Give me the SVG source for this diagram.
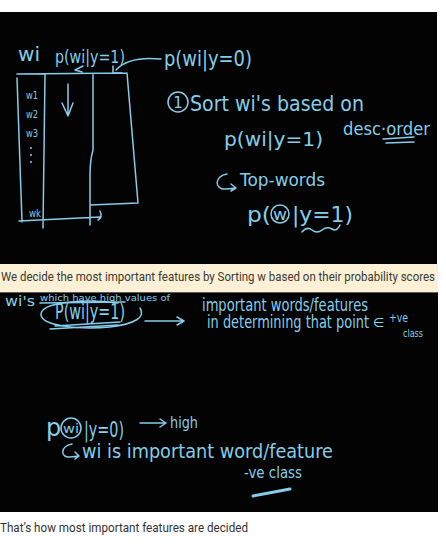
<svg xmlns="http://www.w3.org/2000/svg" width="446" height="546" viewBox="0 0 446 546">
<style>
.hw{font-family:"DejaVu Sans","Liberation Sans",sans-serif;fill:#86cdea}
.ln{fill:none;stroke:#86cdea;stroke-width:1.5;stroke-linecap:round;stroke-linejoin:round}
.cap{font-family:Roboto,"Liberation Sans",sans-serif;font-size:13px}
</style>
<rect width="446" height="546" fill="#ffffff"/>
<g id="panel1">
<rect x="0" y="12" width="437" height="252" fill="#030303"/>
<g id="table">
<path class="ln" d="M17,74 L127,73 M17,78 L22,222 M45,74 L43,228 M93,74 L93,150 Q90,160 90,175 L90,225 M127,73 L138,203 L90,205 M19,221 L100,217 M100,211 Q103,217 98,220"/>
<path class="ln" d="M68,84 L68,116 M62,103 L68,116 L73,103"/>
<path class="ln" d="M83,66 L75,70 L82,72"/>
<text class="hw" x="18" y="61" font-size="20" textLength="22" lengthAdjust="spacingAndGlyphs">wi</text>
<text class="hw" x="55" y="63" font-size="18" textLength="70" lengthAdjust="spacingAndGlyphs">p(wi|y=1)</text>
<text class="hw" x="26" y="99" font-size="10" textLength="12" lengthAdjust="spacingAndGlyphs">w1</text>
<text class="hw" x="26" y="118" font-size="10" textLength="12" lengthAdjust="spacingAndGlyphs">w2</text>
<text class="hw" x="26" y="137" font-size="10" textLength="12" lengthAdjust="spacingAndGlyphs">w3</text>
<circle cx="31" cy="148" r="1" fill="#86cdea"/>
<circle cx="31" cy="155" r="1" fill="#86cdea"/>
<circle cx="31" cy="162" r="1" fill="#86cdea"/>
<text class="hw" x="29" y="217" font-size="10" textLength="12" lengthAdjust="spacingAndGlyphs">wk</text>
</g>
<g id="label-p0">
<path class="ln" d="M161,59 C140,57 125,60 116,70 M113,66 L113,73 L122,73"/>
<text class="hw" x="164" y="66" font-size="22" textLength="88" lengthAdjust="spacingAndGlyphs">p(wi|y=0)</text>
</g>
<g id="step1">
<circle class="ln" cx="178" cy="102" r="10"/>
<text class="hw" x="178" y="108" font-size="15" text-anchor="middle">1</text>
<text class="hw" x="190" y="111" font-size="22" textLength="174" lengthAdjust="spacingAndGlyphs">Sort wi's based on</text>
<text class="hw" x="224" y="146" font-size="20" textLength="99" lengthAdjust="spacingAndGlyphs">p(wi|y=1)</text>
<text class="hw" x="343" y="135" font-size="17" textLength="87" lengthAdjust="spacingAndGlyphs">desc·order</text>
<path class="ln" d="M383,139 L414,137 M386,143 L414,142"/>
<path class="ln" d="M227,174 C214,176 214,190 226,189 L236,188 M231,184 L236,188 L231,191"/>
<text class="hw" x="240" y="186" font-size="18" textLength="85" lengthAdjust="spacingAndGlyphs">Top-words</text>
<text class="hw" x="247" y="222" font-size="22" textLength="24" lengthAdjust="spacingAndGlyphs">p(</text>
<circle class="ln" cx="280" cy="214" r="9"/>
<text class="hw" x="273" y="220" font-size="15" textLength="14" lengthAdjust="spacingAndGlyphs">w</text>
<text class="hw" x="292" y="222" font-size="22" textLength="61" lengthAdjust="spacingAndGlyphs">|y=1)</text>
<path class="ln" d="M302,232 q5,-6 10,-2 q5,4 10,0 q5,-4 10,-1 q5,3 8,-4"/>
</g>
</g>
<g id="caption1">
<rect x="0" y="264" width="438" height="28" fill="#fcf1d6"/>
<text class="cap" x="1" y="281" fill="#3a3a32" textLength="434" lengthAdjust="spacingAndGlyphs">We decide the most important features by Sorting w based on their probability scores</text>
</g>
<g id="panel2">
<rect x="0" y="292" width="438" height="220" fill="#030303"/>
<line x1="0" y1="292.5" x2="438" y2="292.5" stroke="#5a5a5a" stroke-width="1"/>
<text class="hw" x="5" y="306" font-size="14" textLength="30" lengthAdjust="spacingAndGlyphs">wi's</text>
<text class="hw" x="40" y="301" font-size="9" textLength="130" lengthAdjust="spacingAndGlyphs">which have high values of</text>
<path class="ln" d="M40,303 L125,302"/>
<text class="hw" x="55" y="319" font-size="21" textLength="70" lengthAdjust="spacingAndGlyphs">P(wi|y=1)</text>
<path class="ln" d="M118,303 C80,298 42,303 41,314 C40,326 80,330 110,327 C135,324 146,317 140,308"/>
<path class="ln" d="M55,326 L120,322 M50,329 L118,325"/>
<path class="ln" d="M145,321 L183,321 M177,317 L184,321 L177,325"/>
<text class="hw" x="202" y="311" font-size="17" textLength="166" lengthAdjust="spacingAndGlyphs">important words/features</text>
<text class="hw" x="207" y="328" font-size="17" textLength="162" lengthAdjust="spacingAndGlyphs">in determining that point</text>
<text class="hw" x="373" y="327" font-size="13">∈</text>
<text class="hw" x="389" y="322" font-size="12" textLength="19" lengthAdjust="spacingAndGlyphs">+ve</text>
<text class="hw" x="403" y="337" font-size="10" textLength="20" lengthAdjust="spacingAndGlyphs">class</text>
<text class="hw" x="46" y="436" font-size="24">p</text>
<circle class="ln" cx="71" cy="428" r="10"/>
<text class="hw" x="63" y="433" font-size="13" textLength="16" lengthAdjust="spacingAndGlyphs">wi</text>
<text class="hw" x="84" y="437" font-size="22" textLength="40" lengthAdjust="spacingAndGlyphs">|y=0)</text>
<path class="ln" d="M140,423 L165,423 M160,419 L166,423 L160,427"/>
<text class="hw" x="170" y="428" font-size="16" textLength="28" lengthAdjust="spacingAndGlyphs">high</text>
<path class="ln" d="M72,444 C60,446 60,458 70,457 L79,456 M75,452 L79,456 L75,459"/>
<text class="hw" x="82" y="458" font-size="19" textLength="251" lengthAdjust="spacingAndGlyphs">wi is important word/feature</text>
<text class="hw" x="244" y="478" font-size="15" textLength="58" lengthAdjust="spacingAndGlyphs">-ve class</text>
<path d="M253,496 L290,489" fill="none" stroke="#86cdea" stroke-width="3" stroke-linecap="round"/>
</g>
<g id="caption2">
<text class="cap" x="0" y="532" fill="#333333" font-size="13.5" textLength="248" lengthAdjust="spacingAndGlyphs">That’s how most important features are decided</text>
</g>
</svg>
